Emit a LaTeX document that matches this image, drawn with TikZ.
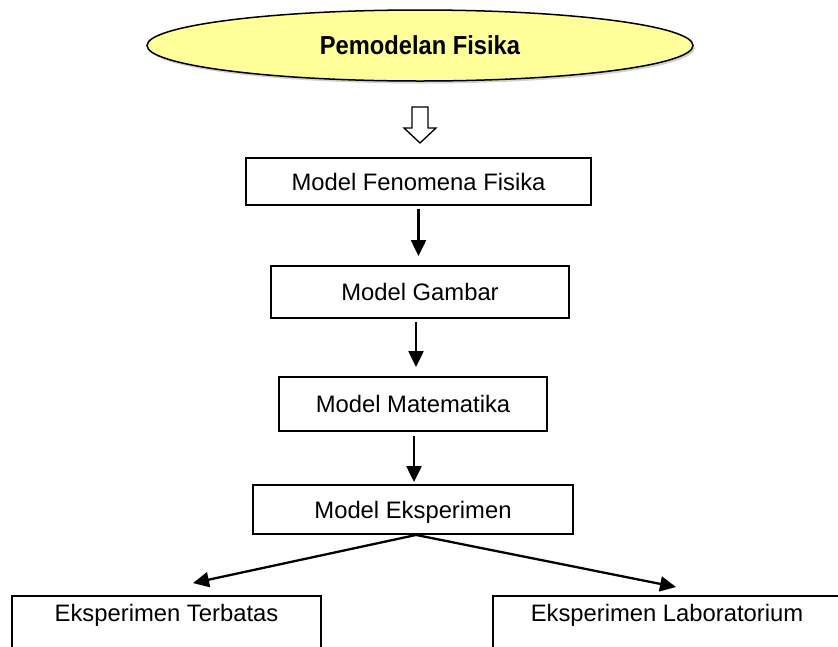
\documentclass[tikz,border=0pt]{standalone}
\usepackage{fontspec}
\setmainfont{Liberation Sans}
\usetikzlibrary{arrows.meta,shapes.geometric,shadows}
\definecolor{elfill}{HTML}{FFFF99}
\begin{document}
\begin{tikzpicture}[x=1pt,y=-1pt,
  box/.style={draw=black,line width=1.9pt,rectangle,inner sep=0pt,
    font=\fontsize{23.8}{28}\selectfont,text height=17pt,text depth=0pt},
  arr/.style={line width=2.3pt,-{Triangle[length=16pt,width=15pt]}},
  title/.style={ellipse,draw=black,line width=1.5pt,fill=elfill,inner sep=0pt,
    minimum width=546pt,minimum height=71pt,
    font=\bfseries\fontsize{23.7}{28}\selectfont,text height=18pt,text depth=0pt,
    drop shadow={shadow xshift=2pt,shadow yshift=-2.5pt,fill=gray!70}},
  hollow/.style={draw=black,line width=1.3pt,fill=white}
]
\useasboundingbox (0,0) rectangle (838,646);
\clip (0,0) rectangle (838,646);

\node[title] (t) at (420,45.5) {\scalebox{1}[1.1]{Pemodelan Fisika}};

\coordinate (ha) at (419.5,107);
\draw[hollow] (ha) ++(-7.5,0) -- ++(0,21) -- ++(-8,0) -- ++(16,15) -- ++(16,-15)
  -- ++(-8,0) -- ++(0,-21) -- cycle;

\node[box,minimum width=345pt,minimum height=47pt] (b1) at (418.5,181.5) {Model Fenomena Fisika};
\node[box,minimum width=298pt,minimum height=52pt] (b2) at (420,292) {Model Gambar};
\node[box,minimum width=268pt,minimum height=54pt] (b3) at (413,404) {Model Matematika};
\node[box,minimum width=320pt,minimum height=49pt] (b4) at (413,509.5) {Model Eksperimen};
\node[box,minimum width=309pt,text height=25.6pt,text depth=48.4pt] (b5) at (166.5,633) {Eksperimen Terbatas};
\node[box,minimum width=348pt,text height=25.6pt,text depth=48.4pt] (b6) at (667,633) {Eksperimen Laboratorium};

\draw[arr,shorten <=3pt,shorten >=9pt] (b1.south) -- (b1.south |- b2.north);
\draw[arr,shorten <=3pt,shorten >=9pt] ([xshift=-4pt]b2.south) -- ([xshift=-4pt]b2.south |- b3.north);
\draw[arr,shorten <=4pt,shorten >=2pt] ([xshift=1pt]b3.south) -- ([xshift=1pt]b3.south |- b4.north);
\draw[arr] ([xshift=3pt]b4.south) -- ([shift={(26.5,-12)}]b5.north);
\draw[arr] ([xshift=3pt]b4.south) -- ([shift={(9,-8)}]b6.north);
\end{tikzpicture}
\end{document}
